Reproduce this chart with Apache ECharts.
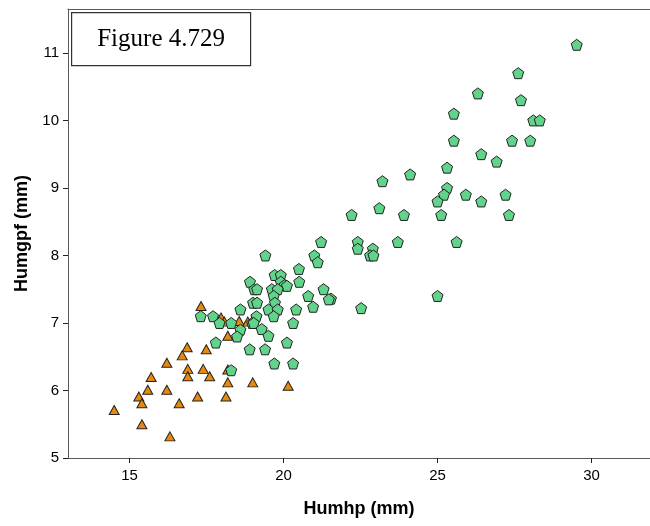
<!DOCTYPE html>
<html><head><meta charset="utf-8">
<script src="https://cdn.jsdelivr.net/npm/echarts@6/dist/echarts.min.js"></script>
<style>html,body{margin:0;padding:0;background:#fff}#c{width:650px;height:526px}</style>
</head><body><div id="c"></div>
<script>
const xTicks = [15, 20, 25, 30];
const yTicks = [5, 6, 7, 8, 9, 10, 11];
const xTitle = 'Humhp (mm)';
const yTitle = 'Humgpf (mm)';
const figureLabel = 'Figure 4.729';

// green pentagons: [Humhp, Humgpf]
const groupA = [
  [29.52,11.12],[27.62,10.70],[26.31,10.40],[27.71,10.30],[25.53,10.10],[28.11,10.00],[28.32,10.00],
  [25.53,9.70],[27.42,9.70],[28.01,9.70],[26.42,9.50],[26.92,9.39],[25.31,9.30],[24.11,9.20],
  [23.21,9.10],[25.31,9.00],[25.21,8.90],[25.00,8.80],[25.92,8.90],[26.42,8.80],[27.21,8.90],
  [23.11,8.70],[22.21,8.60],[23.91,8.60],[25.12,8.60],[27.32,8.60],[22.41,8.20],[22.41,8.10],
  [23.71,8.20],[25.62,8.20],[22.90,8.10],[22.81,8.00],[22.92,8.00],[25.00,7.40],[22.52,7.22],
  [21.54,7.36],[21.22,8.20],[19.41,8.00],[21.00,8.00],[21.11,7.90],[20.50,7.80],[19.71,7.71],
  [19.91,7.71],[20.51,7.61],[18.91,7.61],[19.91,7.61],[20.03,7.56],[20.11,7.55],[19.05,7.50],
  [19.14,7.50],[19.62,7.50],[19.81,7.50],[21.30,7.50],[20.80,7.40],[21.47,7.35],[19.68,7.40],
  [19.72,7.30],[19.01,7.30],[19.14,7.30],[20.96,7.24],[20.41,7.20],[19.51,7.20],[19.81,7.20],
  [19.68,7.10],[18.60,7.20],[19.12,7.10],[20.31,7.00],[17.31,7.10],[17.71,7.10],[17.92,7.00],
  [18.30,7.00],[18.98,7.00],[19.03,7.00],[18.60,6.90],[19.29,6.91],[19.51,6.81],[18.49,6.80],
  [17.80,6.71],[20.11,6.71],[18.90,6.61],[19.40,6.61],[19.70,6.40],[20.31,6.40],[18.30,6.30]
];
// orange triangles
const groupB = [
  [17.32,7.25],[17.97,7.08],[18.08,7.02],[18.56,7.03],[18.84,7.02],[18.19,6.81],[16.87,6.64],
  [17.49,6.61],[16.71,6.52],[16.89,6.32],[17.39,6.32],[18.19,6.31],[16.89,6.21],[17.60,6.21],
  [16.21,6.41],[15.70,6.20],[18.19,6.12],[15.59,6.01],[16.21,6.01],[15.30,5.91],[15.40,5.81],
  [16.61,5.81],[17.21,5.91],[18.13,5.91],[14.50,5.71],[15.40,5.50],[16.31,5.32],[19.00,6.12],
  [20.15,6.07]
];

const pentagon = 'path://M0,-1 L0.951,-0.309 L0.588,0.809 L-0.588,0.809 L-0.951,-0.309 Z';
const chart = echarts.init(document.getElementById('c'), null, {renderer: 'canvas'});
const axisCol = '#5a5a5a';
const labelFont = {fontFamily: 'Liberation Sans', fontSize: 15, color: '#000'};
chart.setOption({
  animation: false,
  backgroundColor: '#fff',
  grid: {left: 68, right: 0, top: 9, bottom: 68, show: false},
  xAxis: [{
    type: 'value', min: 13, max: 31.9,
    name: xTitle, nameLocation: 'middle', nameGap: 42,
    nameTextStyle: {fontFamily: 'Liberation Sans', fontWeight: 'bold', fontSize: 18, color: '#000'},
    axisLine: {show: true, lineStyle: {color: axisCol, width: 1}},
    axisTick: {show: true, length: 5, inside: false, customValues: xTicks, lineStyle: {color: '#222'}},
    axisLabel: Object.assign({customValues: xTicks, margin: 10}, labelFont),
    splitLine: {show: false}
  }, {
    type: 'value', min: 13, max: 31.9, position: 'top',
    axisLine: {show: true, lineStyle: {color: axisCol, width: 1}},
    axisTick: {show: false}, axisLabel: {show: false}, splitLine: {show: false}
  }],
  yAxis: {
    type: 'value', min: 5, max: 11.65,
    name: yTitle, nameLocation: 'middle', nameGap: 31, nameRotate: 90,
    nameTextStyle: {fontFamily: 'Liberation Sans', fontWeight: 'bold', fontSize: 18, color: '#000'},
    axisLine: {show: true, lineStyle: {color: axisCol, width: 1}},
    axisTick: {show: true, length: 5, inside: false, customValues: yTicks, lineStyle: {color: '#222'}},
    axisLabel: Object.assign({customValues: yTicks, margin: 9}, labelFont),
    splitLine: {show: false}
  },
  series: [
    {type: 'scatter', data: groupB, symbol: 'triangle', symbolSize: [10, 9],
     itemStyle: {color: '#e8890c', borderColor: '#222', borderWidth: 1, opacity: 1}},
    {type: 'scatter', data: groupA, symbol: pentagon, symbolSize: [11, 11],
     itemStyle: {color: '#62d38a', borderColor: '#222', borderWidth: 1, opacity: 1}}
  ],
  graphic: [{
    type: 'group', left: 71, top: 12, children: [
      {type: 'rect', shape: {x: 0, y: 0, width: 179, height: 53}, style: {fill: '#fff', stroke: '#333', lineWidth: 1.2}},
      {type: 'text', x: 89.5, y: 27, style: {text: figureLabel, font: '25px "Liberation Serif"', fill: '#000', align: 'center', verticalAlign: 'middle'}}
    ]
  }]
});
</script></body></html>
